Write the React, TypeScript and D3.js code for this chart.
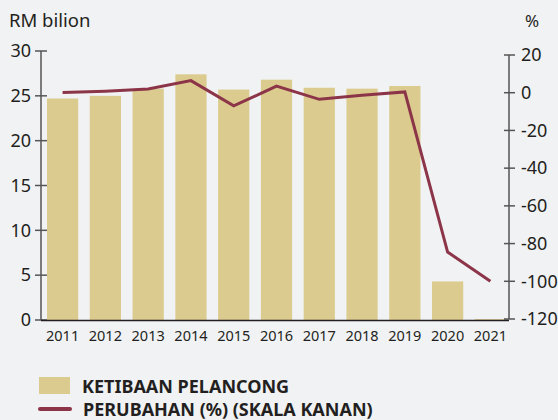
import React from 'react';
import * as d3 from 'd3';

const years = ['2011', '2012', '2013', '2014', '2015', '2016', '2017', '2018', '2019', '2020', '2021'];
const arrivals = [24.7, 25.0, 25.8, 27.4, 25.7, 26.8, 25.9, 25.8, 26.1, 4.3, 0.1];
const changePct = [0.1, 0.8, 2.0, 6.4, -7.0, 3.5, -3.5, -1.4, 0.4, -84.5, -100];
const leftTicks = [0, 5, 10, 15, 20, 25, 30];
const rightTicks = [20, 0, -20, -40, -60, -80, -100, -120];

const BG = '#f1f2f4';
const BAR = '#dccb8e';
const LINE = '#8c3549';
const INK = '#231f20';
const FONT = '"Noto Sans", "Open Sans", sans-serif';

export default function App() {
  const axisL = 41;
  const axisR = 509;
  const x = d3.scaleBand().domain(years).range([41, 512]).paddingInner(0.27).paddingOuter(0.14);
  const yL = d3.scaleLinear().domain([0, 30]).range([320, 51]);
  const yR = d3.scaleLinear().domain([-120, 20]).range([319, 55]);

  const line = d3.line<number>()
    .x((d, i) => (x(years[i]) as number) + x.bandwidth() / 2)
    .y(d => yR(d));

  return (
    <svg width={558} height={420} style={{ display: 'block', position: 'absolute', left: 0, top: 0, background: BG }}
      fontFamily={FONT}>
      <rect x={0} y={0} width={558} height={420} fill={BG} />
      <text x={9} y={27} fontSize={18.5} fill={INK}>RM bilion</text>
      <text x={532} y={27} fontSize={17} fill={INK} textAnchor="middle">%</text>

      {years.map((yr, i) => (
        <rect key={yr} x={x(yr)} y={yL(arrivals[i])} width={x.bandwidth()}
          height={yL(0) - yL(arrivals[i])} fill={BAR} />
      ))}

      <path d={line(changePct) || ''} fill="none" stroke={LINE} strokeWidth={3} strokeLinejoin="miter" />

      {/* left axis */}
      <line x1={axisL} x2={axisL} y1={yL(30)} y2={yL(0)} stroke="#555" strokeWidth={1.5} />
      {leftTicks.map(t => (
        <g key={t}>
          <line x1={axisL - 6} x2={axisL + 6} y1={yL(t)} y2={yL(t)} stroke="#555" strokeWidth={1.5} />
          <text x={31} y={yL(t)} dy="0.35em" fontSize={18} fill={INK} textAnchor="end">{t}</text>
        </g>
      ))}

      {/* right axis */}
      <line x1={axisR} x2={axisR} y1={yR(20)} y2={yR(-120)} stroke="#555" strokeWidth={1.5} />
      {rightTicks.map(t => (
        <g key={t}>
          <line x1={axisR - 5} x2={axisR + 6} y1={yR(t)} y2={yR(t)} stroke="#555" strokeWidth={1.5} />
          <text x={521} y={yR(t)} dy="0.35em" fontSize={18} fill={INK}>{t}</text>
        </g>
      ))}

      {/* x axis */}
      <line x1={axisL} x2={axisR} y1={320.5} y2={320.5} stroke={INK} strokeWidth={1.5} />
      {years.map(yr => (
        <text key={yr} x={(x(yr) as number) + x.bandwidth() / 2} y={341} fontSize={14.5} fill={INK}
          textAnchor="middle">{yr}</text>
      ))}

      {/* legend */}
      <rect x={39} y={377} width={31} height={17} fill={BAR} />
      <text x={82} y={392.5} fontSize={18} fontWeight="bold" fill={INK}>KETIBAAN PELANCONG</text>
      <line x1={40} x2={70} y1={409} y2={409} stroke={LINE} strokeWidth={4} strokeLinecap="round" />
      <text x={83} y={416} fontSize={18} fontWeight="bold" fill={INK}>PERUBAHAN (%) (SKALA KANAN)</text>
    </svg>
  );
}
